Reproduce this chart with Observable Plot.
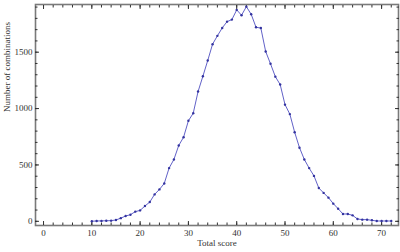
<!DOCTYPE html>
<html>
<head>
<meta charset="utf-8">
<script src="https://cdn.jsdelivr.net/npm/d3@7"></script>
<script src="https://cdn.jsdelivr.net/npm/@observablehq/plot@0.6"></script>
<style>
  html, body { margin: 0; padding: 0; background: #fff; }
</style>
</head>
<body>
<div id="chart"></div>
<script>
const scores = [10,11,12,13,14,15,16,17,18,19,20,21,22,23,24,25,26,27,28,29,30,31,32,33,34,35,36,37,38,39,40,41,42,43,44,45,46,47,48,49,50,51,52,53,54,55,56,57,58,59,60,61,62,63,64,65,66,67,68,69,70,71,72];
const counts = [1,3,4,5,6,12,28,47,59,86,97,136,171,239,283,336,472,549,673,746,892,959,1151,1287,1426,1571,1645,1715,1771,1789,1875,1828,1904,1836,1721,1714,1506,1397,1283,1213,1035,951,790,653,549,472,403,295,252,210,157,112,65,65,53,21,15,15,9,3,3,3,3];
const xMajorTicks = [0,10,20,30,40,50,60,70];
const xMinorTicks = d3.range(0, 73, 2);
const yMajorTicks = [0,500,1000,1500];
const yMinorTicks = d3.range(0, 1901, 100);
const xTitle = "Total score";
const yTitle = "Number of combinations";

const data = scores.map((s, i) => ({score: s, count: counts[i]}));
const frameColor = "#7a7a7a";
const empty = () => "";

const chart = Plot.plot({
  width: 400,
  height: 252,
  marginLeft: 35,
  marginRight: 2,
  marginTop: 4,
  marginBottom: 27,
  x: {domain: [-1.66, 73.5]},
  y: {domain: [-37, 1923]},
  style: {fontFamily: "'Liberation Serif', 'DejaVu Serif', serif", fontSize: "9px", color: "#333", background: "#fff"},
  marks: [
    Plot.frame({stroke: frameColor, strokeWidth: 1.6}),
    // minor ticks
    Plot.axisX({anchor: "bottom", ticks: xMinorTicks, tickSize: -2.5, tickFormat: empty, stroke: "#333", label: null}),
    Plot.axisX({anchor: "top", ticks: xMinorTicks, tickSize: -2.5, tickFormat: empty, stroke: "#333", label: null}),
    Plot.axisY({anchor: "left", ticks: yMinorTicks, tickSize: -2.5, tickFormat: empty, stroke: "#333", label: null}),
    Plot.axisY({anchor: "right", ticks: yMinorTicks, tickSize: -2.5, tickFormat: empty, stroke: "#333", label: null}),
    // major ticks + labels
    Plot.axisX({anchor: "bottom", ticks: xMajorTicks, tickSize: -4, tickPadding: 8, tickFormat: d => String(d), stroke: "#333", fill: "#333", label: null}),
    Plot.axisX({anchor: "top", ticks: xMajorTicks, tickSize: -4, tickFormat: empty, stroke: "#333", label: null}),
    Plot.axisY({anchor: "left", ticks: yMajorTicks, tickSize: -4, tickPadding: 7, tickFormat: d => String(d), stroke: "#333", fill: "#333", label: null}),
    Plot.axisY({anchor: "right", ticks: yMajorTicks, tickSize: -4, tickFormat: empty, stroke: "#333", label: null}),
    // data
    Plot.line(data, {x: "score", y: "count", stroke: "#6262c8", strokeWidth: 1}),
    Plot.dot(data, {x: "score", y: "count", r: 1.2, fill: "#33339f", stroke: "none"}),
    // titles
    Plot.text([xTitle], {frameAnchor: "bottom", text: d => d, dy: 20, fill: "#333", fontSize: 9}),
    Plot.text([yTitle], {frameAnchor: "left", text: d => d, dx: -28, dy: -3, rotate: -90, fill: "#333", fontSize: 9})
  ]
});
document.getElementById("chart").appendChild(chart);
</script>
</body>
</html>
